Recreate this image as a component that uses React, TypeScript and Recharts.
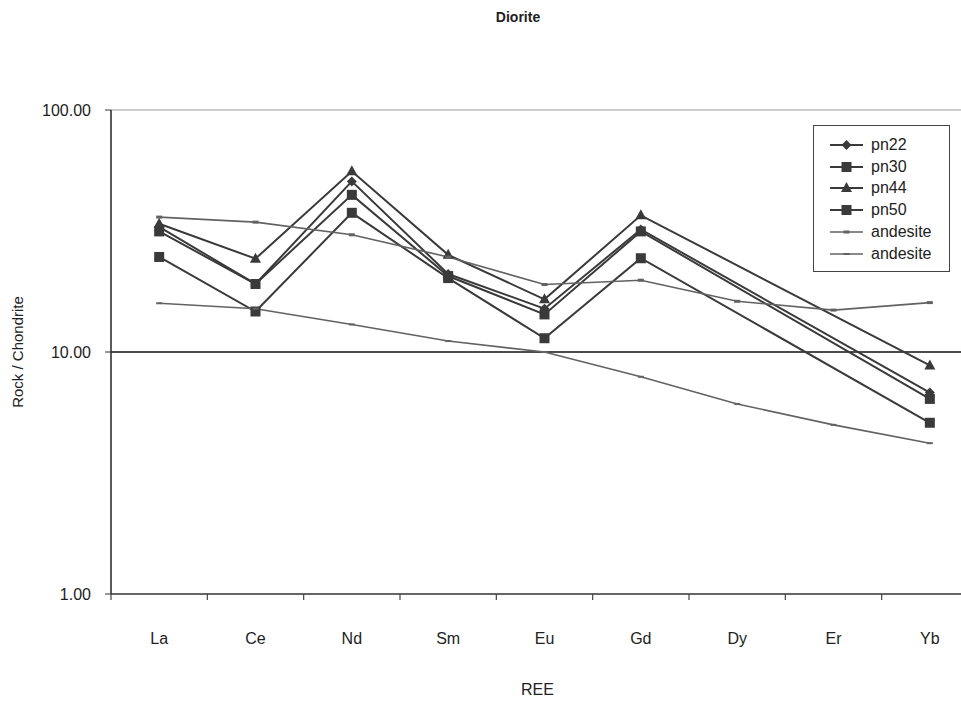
import { LineChart, Line, XAxis, YAxis, CartesianGrid, ReferenceLine } from 'recharts';

const categories = ['La', 'Ce', 'Nd', 'Sm', 'Eu', 'Gd', 'Dy', 'Er', 'Yb'];

const pn22 = [32.9, 19.1, 50.7, 21.0, 15.1, 32.1, null, null, 6.8];
const pn30 = [31.5, 19.1, 44.6, 20.6, 14.3, 31.5, null, null, 6.4];
const pn44 = [33.9, 24.3, 55.8, 25.2, 16.5, 36.7, null, null, 8.8];
const pn50 = [24.7, 14.7, 37.6, 20.2, 11.4, 24.4, null, null, 5.1];
const andesiteA = [36.1, 34.4, 30.5, 24.7, 19.0, 19.8, 16.2, 14.9, 16.0];
const andesiteB = [15.9, 15.1, 13.0, 11.1, 10.0, 7.9, 6.1, 5.0, 4.2];

const yTicks = [1, 10, 100];

const FONT = '"Liberation Sans", Arial, sans-serif';
const DARK = '#3a3a3a';
const GREY = '#626262';

const rows = categories.map((name, i) => ({
  x: i + 0.5,
  name,
  pn22: pn22[i],
  pn30: pn30[i],
  pn44: pn44[i],
  pn50: pn50[i],
  andesiteA: andesiteA[i],
  andesiteB: andesiteB[i],
}));

// tick positions: band edges (tick marks) and band centres (labels)
const xTicks: number[] = [];
for (let i = 0; i <= categories.length; i++) {
  xTicks.push(i);
  if (i < categories.length) xTicks.push(i + 0.5);
}

type Shape = 'diamond' | 'square' | 'triangle' | 'dash' | 'thin';

const marker = (shape: Shape, cx: number, cy: number, color: string) => {
  if (shape === 'diamond') {
    return <path d={`M${cx},${cy - 5}L${cx + 5},${cy}L${cx},${cy + 5}L${cx - 5},${cy}Z`} fill={color} />;
  }
  if (shape === 'square') {
    return <rect x={cx - 5} y={cy - 5} width={10} height={10} fill={color} />;
  }
  if (shape === 'triangle') {
    return <path d={`M${cx},${cy - 6}L${cx + 5.5},${cy + 4}L${cx - 5.5},${cy + 4}Z`} fill={color} />;
  }
  if (shape === 'dash') {
    return <rect x={cx - 3} y={cy - 1.5} width={6} height={3} fill={color} />;
  }
  return <rect x={cx - 3} y={cy - 1} width={6} height={2} fill={color} />;
};

const series: { key: string; name: string; shape: Shape; color: string; width: number }[] = [
  { key: 'pn22', name: 'pn22', shape: 'diamond', color: DARK, width: 2 },
  { key: 'pn30', name: 'pn30', shape: 'square', color: DARK, width: 2 },
  { key: 'pn44', name: 'pn44', shape: 'triangle', color: DARK, width: 2 },
  { key: 'pn50', name: 'pn50', shape: 'square', color: DARK, width: 2 },
  { key: 'andesiteA', name: 'andesite', shape: 'dash', color: GREY, width: 1.6 },
  { key: 'andesiteB', name: 'andesite', shape: 'thin', color: GREY, width: 1.6 },
];

const CatTick = (props: any) => {
  const { x, y, payload } = props;
  const v = payload.value;
  if (Number.isInteger(v)) {
    return <line x1={x} x2={x} y1={y} y2={y + 6} stroke="#444" strokeWidth={1.2} />;
  }
  return (
    <text x={x} y={y + 46} textAnchor="middle" dominantBaseline="middle" fontSize={16} fontFamily={FONT} fill="#222">
      {categories[Math.floor(v)]}
    </text>
  );
};

const LegendBox = () => (
  <div
    style={{
      position: 'absolute',
      left: 813,
      top: 125,
      border: '1px solid #444',
      background: '#fff',
      width: 137,
      height: 147,
      paddingTop: 8,
      boxSizing: 'border-box',
      fontFamily: FONT,
      fontSize: 16,
      color: '#222',
      zIndex: 2,
    }}
  >
    {series.map((s) => (
      <div key={s.key} style={{ display: 'flex', alignItems: 'center', height: 21.8 }}>
        <svg width={52} height={16} style={{ flex: 'none' }}>
          <line x1={16} x2={49} y1={8} y2={8} stroke={s.color} strokeWidth={s.width} />
          {marker(s.shape, 32.5, 8, s.color)}
        </svg>
        <span style={{ marginLeft: 5 }}>{s.name}</span>
      </div>
    ))}
  </div>
);

export default function App() {
  return (
    <div
      style={{
        position: 'fixed',
        left: 0,
        top: 0,
        width: 961,
        height: 702,
        overflow: 'hidden',
        background: '#fff',
        fontFamily: FONT,
      }}
    >
      <div
        style={{
          position: 'absolute',
          left: 518,
          top: 9,
          transform: 'translateX(-50%)',
          fontSize: 14,
          fontWeight: 'bold',
          color: '#222',
          zIndex: 2,
        }}
      >
        Diorite
      </div>
      <LineChart width={990} height={702} data={rows} margin={{ top: 110, right: 12, bottom: 0, left: 0 }}>
        <CartesianGrid vertical={false} stroke="#9a9a9a" strokeWidth={1.2} />
        <ReferenceLine y={10} stroke="#222" strokeWidth={1.4} />
        <XAxis
          type="number"
          dataKey="x"
          domain={[0, categories.length]}
          ticks={xTicks}
          interval={0}
          tickLine={false}
          tickSize={0}
          tickMargin={0}
          tick={<CatTick />}
          height={108}
          axisLine={{ stroke: '#444', strokeWidth: 1.4 }}
          label={{ value: 'REE', position: 'insideBottom', offset: 7, fontSize: 16, fontFamily: FONT, fill: '#222', dx: -7 }}
        />
        <YAxis
          scale="log"
          domain={[1, 100]}
          ticks={yTicks}
          allowDataOverflow
          width={111}
          tickSize={6}
          tickMargin={14}
          tickFormatter={(v) => Number(v).toFixed(2)}
          tick={{ fontSize: 16, fontFamily: FONT, fill: '#222' }}
          tickLine={{ stroke: '#333' }}
          axisLine={{ stroke: '#333', strokeWidth: 1.6 }}
          label={{
            value: 'Rock / Chondrite',
            angle: -90,
            position: 'insideLeft',
            offset: 18,
            style: { textAnchor: 'middle', fontSize: 15, fontFamily: FONT, fill: '#222' },
          }}
        />
        {series.map((s) => (
          <Line
            key={s.key}
            dataKey={s.key}
            name={s.name}
            type="linear"
            stroke={s.color}
            strokeWidth={s.width}
            connectNulls
            isAnimationActive={false}
            dot={(p: any) => (
              <g key={`${s.key}-${p.index}`}>{p.cx != null && p.cy != null ? marker(s.shape, p.cx, p.cy, s.color) : null}</g>
            )}
            activeDot={false}
          />
        ))}
      </LineChart>
      <LegendBox />
    </div>
  );
}
